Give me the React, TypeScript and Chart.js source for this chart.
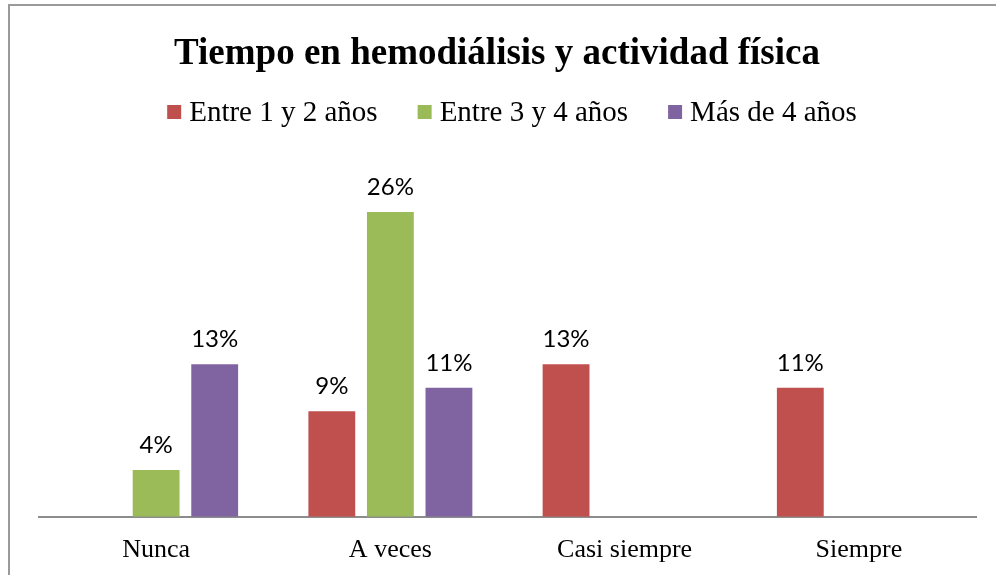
import { useEffect, useRef } from "react";
import { Chart, registerables } from "chart.js";

Chart.register(...registerables);

const titleText = "Tiempo en hemodiálisis y actividad física";
const categories = ["Nunca", "A veces", "Casi siempre", "Siempre"];
const seriesNames = ["Entre 1 y 2 años", "Entre 3 y 4 años", "Más de 4 años"];
const entre1y2 = [null, 9, 13, 11];
const entre3y4 = [4, 26, null, null];
const masDe4 = [13, 11, null, null];
const seriesColors = ["#C0504D", "#9BBB59", "#8064A2"];

const SERIF = "'Liberation Serif', 'DejaVu Serif', serif";
const SANS = "Lato, 'Noto Sans', sans-serif";

const framePlugin = {
  id: "frame",
  beforeDraw(chart: any) {
    const ctx = chart.ctx;
    ctx.save();
    ctx.fillStyle = "#ffffff";
    ctx.fillRect(0, 0, chart.width, chart.height);
    ctx.strokeStyle = "#9a9a9a";
    ctx.lineWidth = 2;
    ctx.beginPath();
    ctx.moveTo(9, chart.height);
    ctx.lineTo(9, 5);
    ctx.lineTo(chart.width, 5);
    ctx.stroke();
    ctx.restore();
  },
  afterDraw(chart: any) {
    const ctx = chart.ctx;
    ctx.save();
    // title
    ctx.fillStyle = "#000000";
    ctx.font = `bold 37px ${SERIF}`;
    ctx.textAlign = "center";
    ctx.textBaseline = "alphabetic";
    ctx.fillText(titleText, 497, 64);
    // legend
    ctx.font = `29px ${SERIF}`;
    const box = 14;
    const gapBox = 8;
    const gapItem = 40;
    const widths = chart.data.datasets.map((d: any) => ctx.measureText(d.label).width);
    const total =
      widths.reduce((a: number, b: number) => a + b, 0) +
      widths.length * (box + gapBox) +
      (widths.length - 1) * gapItem;
    let x = 512 - total / 2;
    ctx.textAlign = "left";
    chart.data.datasets.forEach((d: any, i: number) => {
      ctx.fillStyle = d.backgroundColor;
      ctx.fillRect(x, 105, box, box);
      ctx.fillStyle = "#000000";
      ctx.fillText(d.label, x + box + gapBox, 121);
      x += box + gapBox + widths[i] + gapItem;
    });
    ctx.restore();
  },
  afterDatasetsDraw(chart: any) {
    const ctx = chart.ctx;
    ctx.save();
    ctx.font = `24px ${SANS}`;
    ctx.fillStyle = "#000000";
    ctx.textAlign = "center";
    ctx.textBaseline = "middle";
    chart.data.datasets.forEach((d: any, i: number) => {
      const meta = chart.getDatasetMeta(i);
      meta.data.forEach((el: any, j: number) => {
        const v = d.data[j];
        if (v === null || v === undefined) return;
        ctx.fillText(`${v}%`, el.x, el.y - 25);
      });
    });
    ctx.restore();
  },
};

export default function App() {
  const ref = useRef<HTMLCanvasElement | null>(null);
  useEffect(() => {
    if (!ref.current) return;
    const chart = new Chart(ref.current, {
      type: "bar",
      data: {
        labels: categories,
        datasets: [entre1y2, entre3y4, masDe4].map((values, i) => ({
          label: seriesNames[i],
          data: values,
          backgroundColor: seriesColors[i],
          borderWidth: 0,
          categoryPercentage: 0.75,
          barPercentage: 0.8,
        })),
      },
      options: {
        responsive: false,
        animation: false,
        layout: { padding: { left: 39, right: 20, top: 165, bottom: -9 } },
        plugins: {
          legend: { display: false },
          title: { display: false },
          tooltip: { enabled: false },
        },
        scales: {
          x: {
            grid: { display: false, drawTicks: false, tickLength: 0 },
            border: { display: true, color: "#8c8c8c", width: 2 },
            ticks: {
              color: "#000000",
              padding: 18,
              font: { family: SERIF, size: 26 },
            },
          },
          y: {
            display: false,
            min: 0,
            max: 30,
          },
        },
      },
      plugins: [framePlugin],
    });
    return () => chart.destroy();
  }, []);
  return (
    <div style={{ position: "fixed", left: 0, top: 0, width: 996, height: 575 }}>
      <canvas ref={ref} width={996} height={575} />
    </div>
  );
}
